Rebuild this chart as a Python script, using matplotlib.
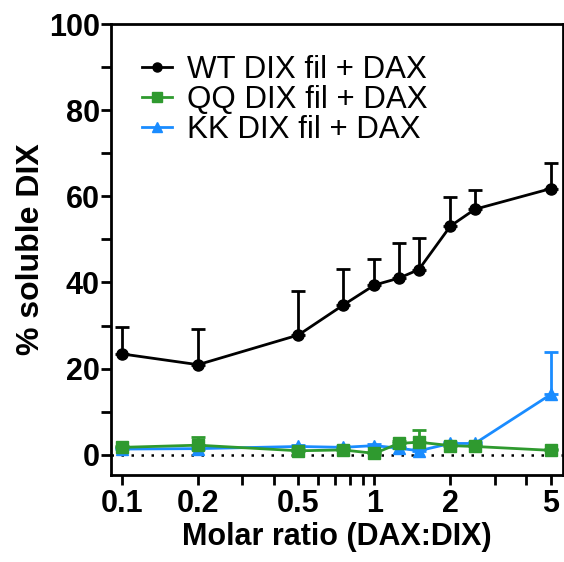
import matplotlib
matplotlib.use('Agg')
import matplotlib.pyplot as plt
from matplotlib.lines import Line2D
import numpy as np

plt.rcParams['font.family'] = ['Liberation Sans', 'DejaVu Sans']

# data
ratio = [0.1, 0.2, 0.5, 0.75, 1.0, 1.25, 1.5, 2.0, 2.5, 5.0]

wt_mean = [23.4, 20.9, 27.8, 34.7, 39.4, 41.0, 43.0, 53.1, 57.0, 61.8]
wt_err = [6.3, 8.2, 10.2, 8.5, 6.1, 8.1, 7.4, 6.7, 4.5, 6.0]

qq_mean = [1.7, 2.2, 0.9, 1.1, 0.3, 2.6, 2.9, 2.1, 1.9, 1.0]
qq_err = [0.4, 1.9, 0.3, 0.4, 0.3, 0.6, 2.8, 0.4, 0.4, 0.3]

kk_mean = [1.3, 1.4, 1.9, 1.7, 2.1, 1.5, 0.9, 2.6, 2.6, 14.0]
kk_err = [0.3, 0.4, 0.3, 0.3, 0.3, 0.3, 0.3, 0.3, 0.3, 9.9]

series = [
    ('WT DIX fil + DAX', wt_mean, wt_err, 'black', 'o'),
    ('QQ DIX fil + DAX', qq_mean, qq_err, '#2f9a2f', 's'),
    ('KK DIX fil + DAX', kk_mean, kk_err, '#1a8cff', '^'),
]

fig = plt.figure(figsize=(5.64, 5.62), dpi=100)
ax = fig.add_axes([0.197, 0.155, 0.801, 0.802])

ax.axhline(0, color='black', linestyle=(0, (1, 3)), linewidth=1.8, zorder=1)

handles = []
for i, (label, m, e, c, mk) in enumerate(series):
    e = np.array(e)
    ax.errorbar(ratio, m, yerr=[np.zeros_like(e), e], color=c, marker=mk,
                markersize=8, linewidth=2, elinewidth=2, capsize=5, capthick=2,
                zorder=5 - i)
    handles.append(Line2D([], [], color=c, marker=mk, markersize=6.5,
                          linewidth=2, label=label))

ax.set_xscale('log')
ax.set_xlim(0.0905, 5.58)
ax.set_ylim(-4.7, 100)
ax.set_xticks([0.1, 0.2, 0.5, 1, 2, 5])
ax.set_xticklabels(['0.1', '0.2', '0.5', '1', '2', '5'])
ax.set_xticks([0.3, 0.4, 0.6, 0.7, 0.8, 0.9, 3, 4], minor=True)
ax.set_xticklabels([], minor=True)
ax.set_yticks([0, 20, 40, 60, 80, 100])
ax.set_yticks([10, 30, 50, 70, 90], minor=True)

for lab in ax.get_xticklabels() + ax.get_yticklabels():
    lab.set_fontsize(22)
    lab.set_fontweight('bold')

ax.tick_params(which='major', length=7, width=2)
ax.tick_params(axis='y', which='major', pad=1)
ax.tick_params(which='minor', length=7, width=2)
for s in ax.spines.values():
    s.set_linewidth(2)

ax.set_xlabel('Molar ratio (DAX:DIX)', fontsize=22, fontweight='bold', labelpad=2)
ax.set_ylabel('% soluble DIX', fontsize=23, fontweight='bold', labelpad=2)

ax.legend(handles=handles, loc='upper left', frameon=False, fontsize=22.5,
          handlelength=0.95, handletextpad=0.5, labelspacing=0.0,
          borderaxespad=0, borderpad=0, bbox_to_anchor=(0.068, 0.931))

plt.savefig('out.png', dpi=100, facecolor='white')
